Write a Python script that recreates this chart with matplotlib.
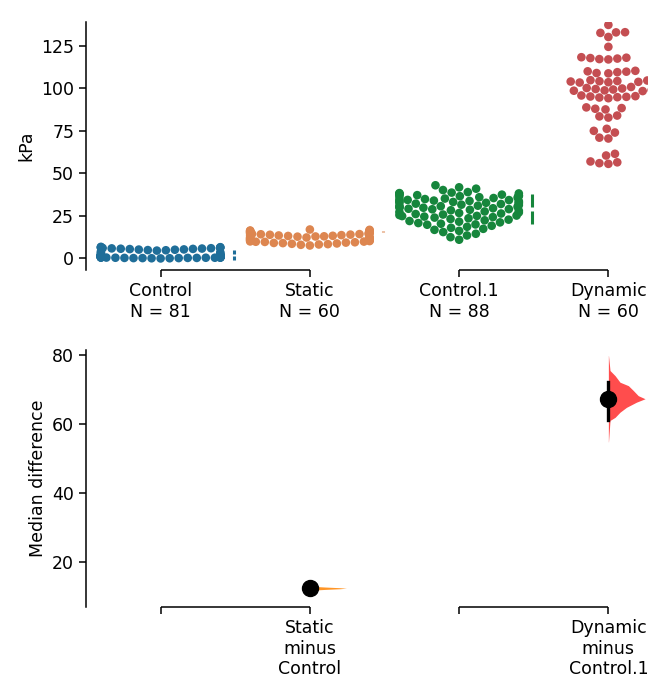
import warnings
import numpy as np
import pandas as pd
import matplotlib
matplotlib.use("Agg")
import matplotlib.pyplot as plt
import seaborn as sns

warnings.filterwarnings("ignore")

plt.rcParams.update({
    "font.family": "DejaVu Sans",
    "font.size": 12.5,
    "axes.linewidth": 1.1,
    "xtick.major.width": 1.1,
    "ytick.major.width": 1.1,
    "xtick.major.size": 5,
    "ytick.major.size": 5,
})

# --- data (kPa) ---
groups = ["Control", "Static", "Control.1", "Dynamic"]
colors = ["#1f6e99", "#dd8650", "#16863c", "#c44e52"]

control = [0.2, 0.3, 0.4, 0.5, 0.5, 0.6, 0.7, 0.8, 0.8, 0.9, 1.0, 1.0, 1.1, 1.2, 1.2, 1.3, 1.4, 1.5, 1.5, 1.6,
           0.1, 0.2, 0.3, 0.4, 0.6, 0.7, 0.9, 1.0, 1.1, 1.3, 1.4, 1.6, 1.7, 1.8, 1.9, 2.0, 0.0, 0.1, 0.3, 0.5,
           0.6, 0.8, 0.9, 1.1, 1.2, 1.4, 1.5, 1.7, 1.8, 2.0, 0.2, 0.4, 0.7, 1.0, 1.3, 1.6, 1.9,
           2.4, 2.8, 3.2, 3.6, 4.0,
           4.6, 4.9, 5.1, 5.3, 5.5, 5.6, 5.8, 6.0, 6.1, 6.2, 6.4, 6.6, 6.8, 5.2, 5.7, 6.3, 4.8, 5.9, 6.5]
static = [8.0, 8.4, 8.8, 9.1, 9.5, 9.8, 10.2, 10.5, 10.9, 11.2, 11.6, 11.9, 12.3, 12.6, 13.0, 13.3, 13.7, 14.0, 14.4, 14.7,
          15.1, 15.4, 15.8, 16.1, 16.5, 16.8, 8.2, 8.6, 9.3, 9.9,
          10.4, 10.8, 11.4, 11.8, 12.1, 12.5, 12.9, 13.5, 13.9, 14.3,
          14.8, 15.2, 15.6, 16.0, 16.4, 7.6, 9.0, 9.7, 10.0, 11.0,
          12.0, 12.8, 13.2, 13.6, 14.2, 14.6, 15.0, 15.5, 16.2, 17.0]
control1 = [43.0, 40.2, 41.0, 41.8,
            36.0, 36.3, 36.6, 36.9, 37.2, 37.5, 37.8, 38.1, 38.4, 38.7, 39.0, 36.8, 37.6, 38.2,
            32.0, 32.2, 32.4, 32.7, 33.0, 33.2, 33.5, 33.8, 34.0, 34.3, 34.6, 34.9, 35.2, 35.5, 35.8, 33.6, 34.4, 32.9,
            28.0, 28.3, 28.6, 28.9, 29.2, 29.5, 29.8, 30.1, 30.4, 30.7, 31.0, 31.3, 31.6, 29.0, 30.0, 31.0,
            24.0, 24.3, 24.6, 24.9, 25.2, 25.5, 25.8, 26.1, 26.4, 26.7, 27.0, 27.3, 27.6, 25.0,
            20.0, 20.4, 20.8, 21.2, 21.6, 22.0, 22.4, 22.8, 23.2, 23.6,
            16.2, 16.8, 17.4, 18.0, 18.6, 19.2, 19.8,
            12.5, 13.5, 14.5, 15.5, 11.0]
dynamic = [137.3, 133.0, 132.6, 132.9, 130.2, 124.4,
           117.2, 117.5, 117.8, 118.0, 117.0, 118.3,
           109.0, 109.5, 110.0, 109.8, 110.3, 108.8,
           104.0, 104.3, 103.6, 104.6, 103.8, 104.2, 104.8, 103.4,
           99.0, 99.3, 98.8, 99.6, 98.6, 99.9, 98.4, 100.2,
           95.0, 94.6, 95.4, 94.2, 95.8, 94.8, 95.2,
           88.0, 88.4, 87.6, 88.8, 83.5, 82.8, 84.0,
           75.0, 76.2, 74.0, 70.5, 71.0, 60.5, 61.5,
           56.0, 56.5, 55.6, 57.0, 100.8]

# summary (gapped line): centre, half-span
summary_center = [2.0, 15.7, 29.0]
summary_half = [3.0, 0.4, 9.0]

# median differences
diff_labels = ["Static\nminus\nControl", "Dynamic\nminus\nControl.1"]
diff_pos = [1, 3]
diff_median = [12.3, 67.3]
diff_ci_low = [12.0, 61.2]
diff_ci_high = [12.6, 72.1]
diff_colors = ["#ff9526", "#ff4d4d"]

# bootstrap distribution outlines (value, half-violin width in group units)
static_kde_y = [11.7, 11.95, 12.15, 12.3, 12.45, 12.65, 12.9]
static_kde_w = [0.0, 0.1, 0.2, 0.245, 0.2, 0.1, 0.0]
dynamic_kde_y = [54.8, 61.0, 61.9, 63.4, 64.8, 66.3, 67.3, 68.2, 69.7, 71.1, 72.1, 74.0, 75.5, 79.8]
dynamic_kde_w = [0.001, 0.011, 0.045, 0.078, 0.121, 0.188, 0.246, 0.2, 0.167, 0.134, 0.078, 0.045, 0.011, 0.001]

values = [control, static, control1, dynamic]
df = pd.DataFrame({
    "group": np.repeat(groups, [len(v) for v in values]),
    "kPa": np.concatenate(values),
})

fig = plt.figure(figsize=(6.48, 6.77), dpi=100)
ax1 = fig.add_axes([0.1327, 0.6012, 0.9213, 0.3663])
ax2 = fig.add_axes([0.1327, 0.1034, 0.9213, 0.3796])

# --- raw data swarm ---
sns.swarmplot(data=df, x="group", y="kPa", hue="group", order=groups, hue_order=groups,
              palette=colors, size=6.2, ax=ax1, legend=False, zorder=2)
for i, (c, h) in enumerate(zip(summary_center, summary_half)):
    gap = 0.12 * h if h > 1 else 0
    ax1.plot([i + 0.49, i + 0.49], [c - h, c - gap], color=colors[i], lw=2.2, solid_capstyle="butt")
    ax1.plot([i + 0.49, i + 0.49], [c + gap, c + h], color=colors[i], lw=2.2, solid_capstyle="butt")

ax1.set_xlim(-0.5, 3.5)
ax1.set_ylim(-6.8, 139)
ax1.set_yticks([0, 25, 50, 75, 100, 125])
ax1.set_xticks(range(4))
ax1.set_xticklabels([f"{g}\nN = {len(v)}" for g, v in zip(groups, values)])
ax1.set_xlabel("")
ax1.set_ylabel("kPa")

# --- effect sizes ---
ax2.fill_betweenx(static_kde_y, diff_pos[0], np.array(static_kde_w) + diff_pos[0],
                  color=diff_colors[0], lw=0, zorder=1)
ax2.fill_betweenx(dynamic_kde_y, diff_pos[1], np.array(dynamic_kde_w) + diff_pos[1],
                  color=diff_colors[1], lw=0, zorder=1)
for p, m, lo, hi in zip(diff_pos, diff_median, diff_ci_low, diff_ci_high):
    ax2.plot([p, p], [lo, hi], color="black", lw=2.4, zorder=3)
    ax2.plot(p, m, "o", color="black", markersize=11.5, zorder=4)

ax2.set_xlim(-0.5, 3.5)
ax2.set_ylim(6.85, 81.45)
ax2.set_yticks([20, 40, 60, 80])
ax2.set_xticks(range(4))
ax2.set_xticklabels(["", diff_labels[0], "", diff_labels[1]])
ax2.set_ylabel("Median difference")

for ax in (ax1, ax2):
    for s in ("top", "right", "bottom"):
        ax.spines[s].set_visible(False)
    y0 = ax.get_ylim()[0]
    for a, b in ((0, 1), (2, 3)):
        ax.plot([a, b], [y0, y0], color="black", lw=1.1, clip_on=False, solid_capstyle="butt")

fig.savefig("out.png", dpi=100)
